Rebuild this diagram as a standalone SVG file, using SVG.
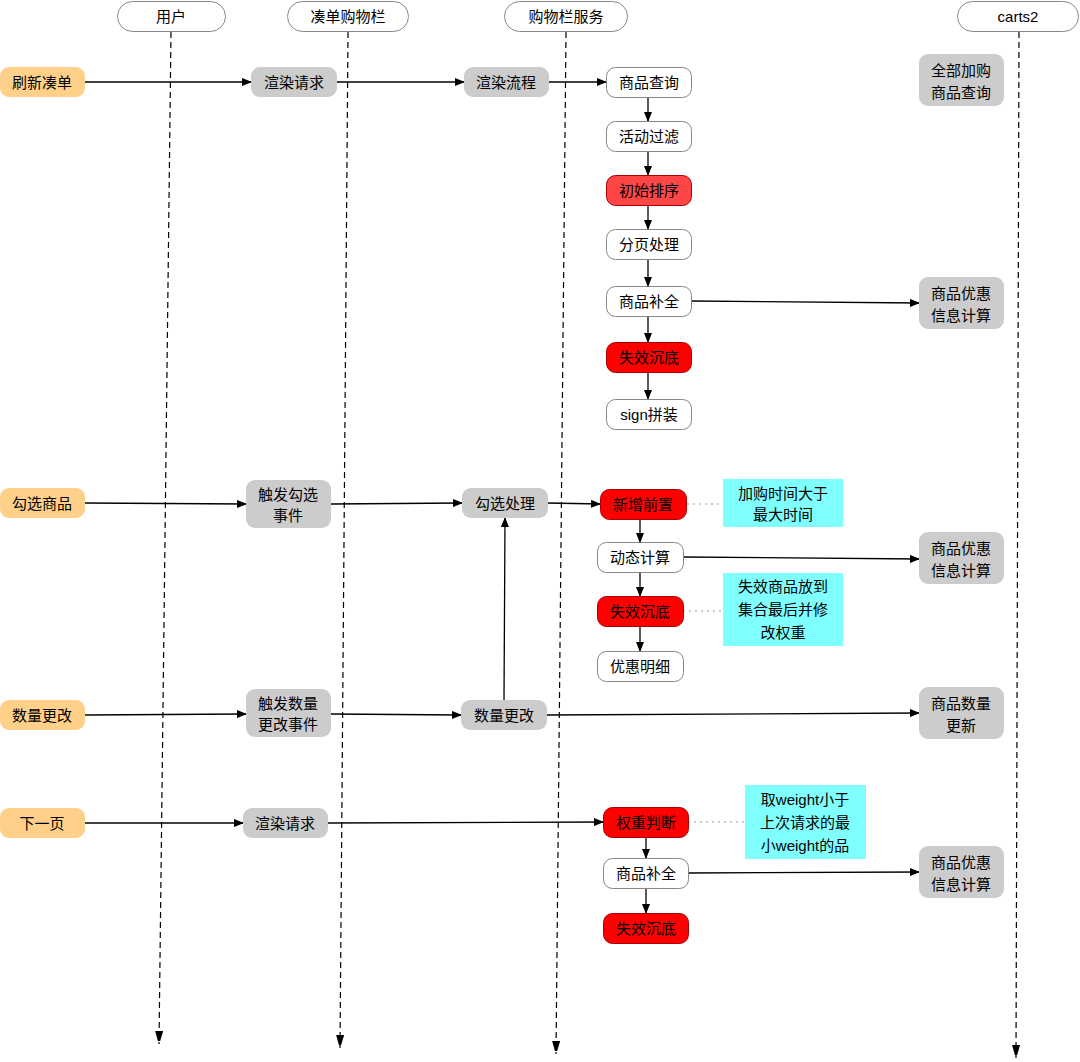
<svg xmlns="http://www.w3.org/2000/svg" width="1080" height="1062" viewBox="0 0 1080 1062">
<style>
text{font-family:"Liberation Sans","Noto Sans CJK SC",sans-serif;font-size:15px;fill:#000;text-anchor:middle;dominant-baseline:central}
.hd{fill:#fff;stroke:#888;stroke-width:1}
.or{fill:#FFD08A;stroke:none}
.gr{fill:#CCCCCC;stroke:none}
.wh{fill:#fff;stroke:#888;stroke-width:1}
.r1{fill:#FF4646;stroke:#A00;stroke-width:1}
.r2{fill:#FF0000;stroke:#A00;stroke-width:1}
.nt{fill:#80FFFF;stroke:none}
.ln{stroke:#000;stroke-width:1.3;fill:none}
.ll{stroke:#000;stroke-width:1.2;stroke-dasharray:6,4;fill:none}
.dt{stroke:#999;stroke-width:1;stroke-dasharray:2,4;fill:none}
</style>
<defs>
<marker id="a" markerWidth="10" markerHeight="8" refX="9" refY="4" orient="auto" markerUnits="userSpaceOnUse"><path d="M0,0 L10,4 L0,8 z" fill="#000"/></marker>
<marker id="b" markerWidth="10" markerHeight="14" refX="13" refY="4" orient="auto" markerUnits="userSpaceOnUse"><path d="M0,0 L14,4 L0,8 z" fill="#000"/></marker>
</defs>
<rect width="1080" height="1062" fill="#fff"/>
<g id="lifelines">
<path class="ll" d="M171,32 L159,1044" marker-end="url(#b)"/>
<path class="ll" d="M348,32 L340,1048" marker-end="url(#b)"/>
<path class="ll" d="M566,32 L556,1054" marker-end="url(#b)"/>
<path class="ll" d="M1019,32 L1016,1058" marker-end="url(#b)"/>
</g>
<g id="h-user"><rect class="hd" x="117.5" y="1.5" width="108" height="30" rx="15"/><text x="171" y="16">用户</text></g>
<g id="h-cd"><rect class="hd" x="287.5" y="1.5" width="121" height="30" rx="15"/><text x="348" y="16">凑单购物栏</text></g>
<g id="h-svc"><rect class="hd" x="504.5" y="1.5" width="123" height="30" rx="15"/><text x="566" y="16">购物栏服务</text></g>
<g id="h-carts"><rect class="hd" x="957.5" y="1.5" width="121" height="30" rx="15"/><text x="1018" y="16">carts2</text></g>

<g id="connectors">
<path class="ln" d="M85,82 L251,82" marker-end="url(#a)"/>
<path class="ln" d="M337,82 L464,82" marker-end="url(#a)"/>
<path class="ln" d="M549,82 L606,82" marker-end="url(#a)"/>
<path class="ln" d="M648,97 L648,121" marker-end="url(#a)"/>
<path class="ln" d="M648,151 L648,175" marker-end="url(#a)"/>
<path class="ln" d="M648,205 L648,229" marker-end="url(#a)"/>
<path class="ln" d="M648,259 L648,286" marker-end="url(#a)"/>
<path class="ln" d="M648,316 L648,342" marker-end="url(#a)"/>
<path class="ln" d="M648,372 L648,399" marker-end="url(#a)"/>
<path class="ln" d="M691,301 L919,303" marker-end="url(#a)"/>
<path class="ln" d="M85,503 L246,504" marker-end="url(#a)"/>
<path class="ln" d="M331,504 L462,503" marker-end="url(#a)"/>
<path class="ln" d="M548,503 L600,504" marker-end="url(#a)"/>
<path class="ln" d="M640,519 L640,542" marker-end="url(#a)"/>
<path class="ln" d="M640,572 L640,596" marker-end="url(#a)"/>
<path class="ln" d="M640,626 L640,651" marker-end="url(#a)"/>
<path class="ln" d="M683,557 L919,559" marker-end="url(#a)"/>
<path class="ln" d="M85,715 L246,714" marker-end="url(#a)"/>
<path class="ln" d="M331,714 L461,715" marker-end="url(#a)"/>
<path class="ln" d="M504,700 L505,518" marker-end="url(#a)"/>
<path class="ln" d="M547,715 L919,713" marker-end="url(#a)"/>
<path class="ln" d="M85,823 L243,823" marker-end="url(#a)"/>
<path class="ln" d="M328,823 L603,822" marker-end="url(#a)"/>
<path class="ln" d="M646,837 L646,858" marker-end="url(#a)"/>
<path class="ln" d="M646,888 L646,913" marker-end="url(#a)"/>
<path class="ln" d="M688,873 L919,872" marker-end="url(#a)"/>
<path class="dt" d="M687,504 L723,504"/>
<path class="dt" d="M683,611 L723,611"/>
<path class="dt" d="M688,822 L745,822"/>
</g>

<g id="n-refresh"><rect class="or" x="0" y="67" width="85" height="30" rx="9"/><text x="42" y="82">刷新凑单</text></g>
<g id="n-render1"><rect class="gr" x="251" y="67" width="86" height="30" rx="9"/><text x="294" y="82">渲染请求</text></g>
<g id="n-flow"><rect class="gr" x="464" y="67" width="85" height="30" rx="9"/><text x="506" y="82">渲染流程</text></g>
<g id="n-query"><rect class="wh" x="606.5" y="67.5" width="85" height="30" rx="9"/><text x="649" y="82">商品查询</text></g>
<g id="n-filter"><rect class="wh" x="606.5" y="121.5" width="85" height="30" rx="9"/><text x="649" y="136">活动过滤</text></g>
<g id="n-sort"><rect class="r1" x="606.5" y="175.5" width="85" height="30" rx="9"/><text x="649" y="190">初始排序</text></g>
<g id="n-page"><rect class="wh" x="606.5" y="229.5" width="85" height="30" rx="9"/><text x="649" y="244">分页处理</text></g>
<g id="n-fill1"><rect class="wh" x="606.5" y="286.5" width="85" height="30" rx="9"/><text x="649" y="301">商品补全</text></g>
<g id="n-sink1"><rect class="r2" x="606.5" y="342.5" width="85" height="30" rx="9"/><text x="649" y="357">失效沉底</text></g>
<g id="n-sign"><rect class="wh" x="606.5" y="399.5" width="85" height="30" rx="9"/><text x="649" y="414">sign拼装</text></g>
<g id="n-allq"><rect class="gr" x="919" y="54" width="85" height="52" rx="9"/><text x="961" y="70">全部加购</text><text x="961" y="92">商品查询</text></g>
<g id="n-calc1"><rect class="gr" x="919" y="277" width="85" height="52" rx="9"/><text x="961" y="293">商品优惠</text><text x="961" y="315">信息计算</text></g>

<g id="n-check"><rect class="or" x="0" y="488" width="85" height="30" rx="9"/><text x="42" y="503">勾选商品</text></g>
<g id="n-trig1"><rect class="gr" x="246" y="480" width="85" height="48" rx="9"/><text x="288" y="494">触发勾选</text><text x="288" y="515">事件</text></g>
<g id="n-checkp"><rect class="gr" x="462" y="488" width="86" height="30" rx="9"/><text x="505" y="503">勾选处理</text></g>
<g id="n-add"><rect class="r2" x="600.5" y="489.5" width="86" height="30" rx="9"/><text x="643" y="504">新增前置</text></g>
<g id="note1"><rect class="nt" x="723" y="479" width="120" height="48"/><text x="783" y="493">加购时间大于</text><text x="783" y="514">最大时间</text></g>
<g id="n-dyn"><rect class="wh" x="597.5" y="542.5" width="86" height="30" rx="9"/><text x="640" y="557">动态计算</text></g>
<g id="n-calc2"><rect class="gr" x="919" y="532" width="85" height="52" rx="9"/><text x="961" y="548">商品优惠</text><text x="961" y="570">信息计算</text></g>
<g id="n-sink2"><rect class="r2" x="597.5" y="596.5" width="86" height="30" rx="9"/><text x="640" y="611">失效沉底</text></g>
<g id="note2"><rect class="nt" x="723" y="573" width="120" height="73"/><text x="783" y="586">失效商品放到</text><text x="783" y="609">集合最后并修</text><text x="783" y="632">改权重</text></g>
<g id="n-detail"><rect class="wh" x="597.5" y="651.5" width="86" height="30" rx="9"/><text x="640" y="666">优惠明细</text></g>

<g id="n-qty"><rect class="or" x="0" y="700" width="85" height="30" rx="9"/><text x="42" y="715">数量更改</text></g>
<g id="n-trig2"><rect class="gr" x="246" y="689" width="85" height="48" rx="9"/><text x="288" y="703">触发数量</text><text x="288" y="724">更改事件</text></g>
<g id="n-qtyp"><rect class="gr" x="461" y="700" width="86" height="30" rx="9"/><text x="504" y="715">数量更改</text></g>
<g id="n-qtyu"><rect class="gr" x="919" y="687" width="85" height="52" rx="9"/><text x="961" y="703">商品数量</text><text x="961" y="725">更新</text></g>

<g id="n-next"><rect class="or" x="0" y="808" width="85" height="30" rx="9"/><text x="42" y="823">下一页</text></g>
<g id="n-render2"><rect class="gr" x="243" y="808" width="85" height="30" rx="9"/><text x="285" y="823">渲染请求</text></g>
<g id="n-weight"><rect class="r2" x="603.5" y="807.5" width="85" height="30" rx="9"/><text x="646" y="822">权重判断</text></g>
<g id="note3"><rect class="nt" x="745" y="785" width="121" height="74"/><text x="805" y="799">取weight小于</text><text x="805" y="822">上次请求的最</text><text x="805" y="845">小weight的品</text></g>
<g id="n-fill2"><rect class="wh" x="603.5" y="858.5" width="85" height="30" rx="9"/><text x="646" y="873">商品补全</text></g>
<g id="n-calc3"><rect class="gr" x="919" y="846" width="85" height="52" rx="9"/><text x="961" y="862">商品优惠</text><text x="961" y="884">信息计算</text></g>
<g id="n-sink3"><rect class="r2" x="603.5" y="913.5" width="85" height="30" rx="9"/><text x="646" y="928">失效沉底</text></g>
</svg>
